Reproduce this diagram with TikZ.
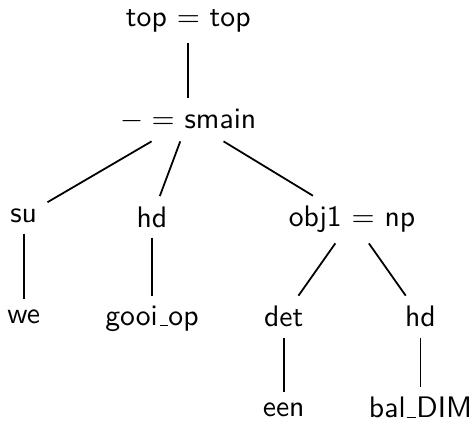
\documentclass[tikz,border=0pt]{standalone}
\usepackage{tikz}

\newcommand{\uscore}{\leavevmode\kern.06em\vbox{\hrule width.3em}}

\begin{document}
\begin{tikzpicture}[every node/.style={font=\sffamily}, edge/.style={line width=0.6pt}]
    \useasboundingbox (0,0) rectangle (5.59,-5.01);

    \node (top) at (2.23,-0.25) {top $=$ top};
    \node (smain) at (2.23,-1.42) {$-=$ smain};

    \node (su) at (0.28,-2.56) {su};
    \node (hdv) at (1.80,-2.57) {hd};
    \node (obj) at (4.17,-2.60) {obj1 $=$ np};

    \node (we) at (0.28,-3.75) {we};
    \node (gooi) at (1.80,-3.78) {gooi\uscore op};
    \node (det) at (3.36,-3.75) {det};
    \node (hdn) at (4.98,-3.75) {hd};

    \node (een) at (3.36,-4.85) {een};
    \node (bal) at (4.98,-4.83) {bal\uscore DIM};

    \draw[edge] (top) -- (smain);
    \foreach \c in {su,hdv,obj} {
      \draw[edge] (smain) -- (\c);
    }
    \draw[edge] (su) -- (we);
    \draw[edge] (hdv) -- (gooi);
    \draw[edge] (obj) -- (det);
    \draw[edge] (obj) -- (hdn);
    \draw[edge] (det) -- (een);
    \draw[edge] (hdn) -- (bal);
\end{tikzpicture}
\end{document}
